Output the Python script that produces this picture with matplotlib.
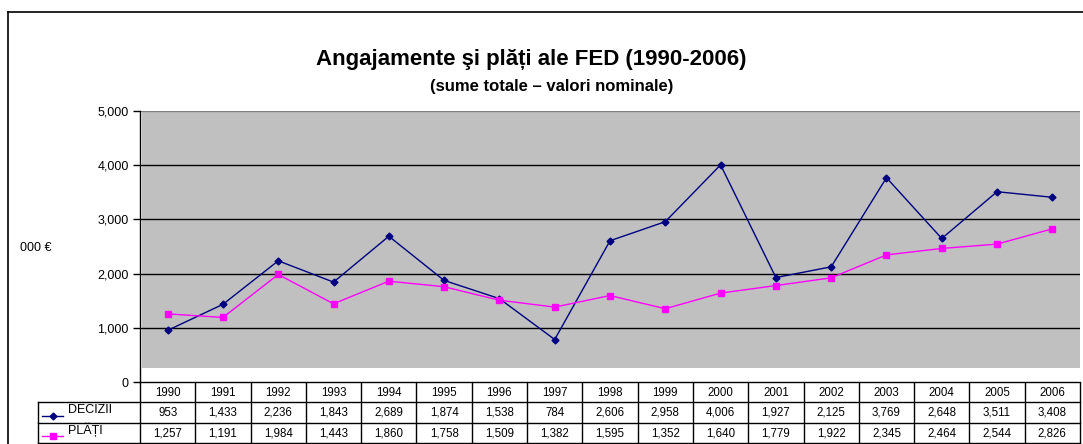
import matplotlib
matplotlib.use("Agg")
from matplotlib import pyplot as plt
from matplotlib.lines import Line2D
from matplotlib.patches import Rectangle
from matplotlib.transforms import blended_transform_factory

plt.rcParams['font.family'] = ['Liberation Sans', 'DejaVu Sans']

years = [1990, 1991, 1992, 1993, 1994, 1995, 1996, 1997, 1998, 1999,
         2000, 2001, 2002, 2003, 2004, 2005, 2006]
decizii = [953, 1433, 2236, 1843, 2689, 1874, 1538, 784, 2606, 2958,
           4006, 1927, 2125, 3769, 2648, 3511, 3408]
plati = [1257, 1191, 1984, 1443, 1860, 1758, 1509, 1382, 1595, 1352,
         1640, 1779, 1922, 2345, 2464, 2544, 2826]
series_names = ["DECIZII", "PLĂȚI"]
yticks = [0, 1000, 2000, 3000, 4000, 5000]

W, H = 1083, 444
fig = plt.figure(figsize=(W / 100, H / 100), dpi=100)

def fx(px):
    return px / W

def fy(py):
    return 1 - py / H

# plot area (pixel box 140..1080 x 111..382)
ax = fig.add_axes([fx(140), fy(382), fx(1080) - fx(140), fy(111) - fy(382)])
ax.set_facecolor("white")
ax.add_patch(Rectangle((2 / 940, 14 / 271), 1 - 2 / 940, 1 - 14 / 271,
                       transform=ax.transAxes, facecolor="#C0C0C0",
                       edgecolor="none", zorder=0))

x = list(range(len(years)))
ax.set_xlim(-0.5, len(years) - 0.5)
ax.set_ylim(0, 5000)
for v in yticks[1:-1]:
    ax.axhline(v, color="black", lw=1.0, zorder=1)
ax.axhline(yticks[-1], color="#808080", lw=1.0, zorder=1)

ax.plot(x, decizii, color="#000080", lw=1.0, marker="D", markersize=3.5,
        zorder=3)
ax.plot(x, plati, color="#FF00FF", lw=1.0, marker="s", markersize=4,
        zorder=3)

ax.set_yticks(yticks)
ax.set_yticklabels([f"{v:,}" for v in yticks], fontsize=9)
ax.set_xticks([])
ax.tick_params(axis="y", direction="out", length=5, width=1, pad=3)
for s in ["top", "right"]:
    ax.spines[s].set_visible(False)
ax.spines["left"].set_linewidth(1.0)
ax.spines["bottom"].set_linewidth(1.0)

fig.text(fx(36), fy(248), "000 €", fontsize=9, ha="center", va="center")

fig.text(fx(531), fy(60), "Angajamente şi plăți ale FED (1990-2006)",
         fontsize=16, fontweight="bold", ha="center", va="center")
fig.text(fx(552), fy(87), "(sume totale – valori nominale)",
         fontsize=12, fontweight="bold", ha="center", va="center")

# data table under the chart
tr = blended_transform_factory(ax.transData, fig.transFigure)
row_top = [383, 402, 423]
row_bot = [402, 423, 443]
rows = [[str(y) for y in years],
        [f"{v:,}" for v in decizii],
        [f"{v:,}" for v in plati]]
for r, cells in enumerate(rows):
    yc = fy((row_top[r] + row_bot[r]) / 2)
    for i, txt in enumerate(cells):
        ax.text(i, yc, txt, transform=tr, fontsize=8.3, ha="center",
                va="center", clip_on=False)
for i in range(len(years) + 1):
    ax.add_line(Line2D([i - 0.5, i - 0.5], [fy(383), fy(443)], transform=tr,
                       color="black", lw=1.0, clip_on=False))
for py in [402, 423, 443]:
    fig.add_artist(Line2D([fx(38), fx(1080)], [fy(py), fy(py)], color="black",
                          lw=1.0))
fig.add_artist(Line2D([fx(38), fx(38)], [fy(402), fy(443)], color="black",
                      lw=1.0))

# legend keys in the label column
keys = [("#000080", "D", 3.5), ("#FF00FF", "s", 4)]
for r, (name, (col, mk, ms)) in enumerate(zip(series_names, keys)):
    ly = fy(row_bot[r + 1] - 7)
    fig.add_artist(Line2D([fx(42), fx(63)], [ly, ly], color=col, lw=1.0))
    fig.add_artist(Line2D([fx(52.5)], [ly], color=col, marker=mk,
                          markersize=ms, lw=0))
    fig.text(fx(68), fy((row_top[r + 1] + row_bot[r + 1]) / 2 - 3), name,
             fontsize=9, ha="left", va="center")

# outer chart frame
fig.add_artist(Line2D([fx(8), fx(8)], [fy(12), 0], color="black", lw=1.2))
fig.add_artist(Line2D([fx(8), 1], [fy(12), fy(12)], color="black", lw=1.2))

fig.savefig("out.png", dpi=100)
